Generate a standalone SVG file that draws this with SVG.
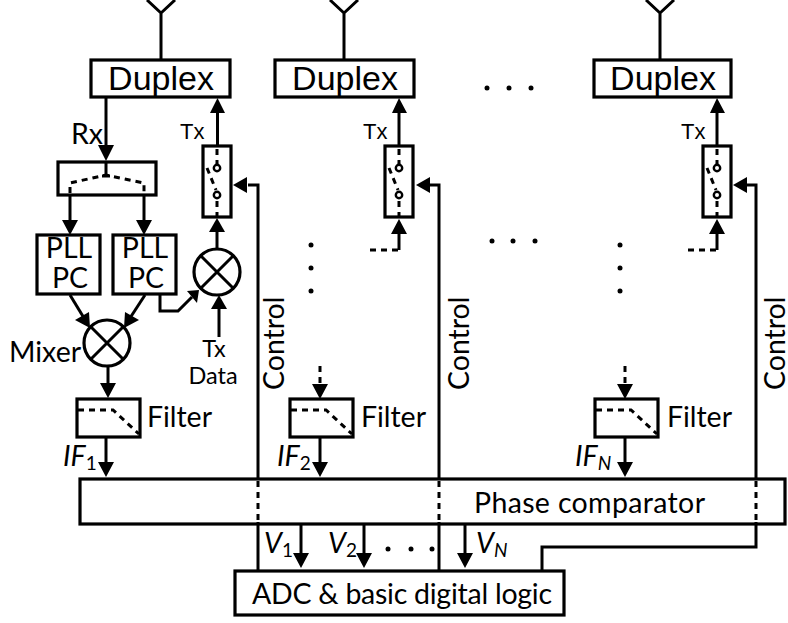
<svg xmlns="http://www.w3.org/2000/svg" width="788" height="623" viewBox="0 0 788 623">
<style>
.b{fill:#fff;stroke:#000;stroke-width:3.2}
.l{fill:none;stroke:#000;stroke-width:3}
.d{fill:none;stroke:#000;stroke-width:3;stroke-dasharray:6 5}
.h{fill:#000}
.o{fill:#fff;stroke:#000;stroke-width:2.4}
text{font-family:"Lato","Liberation Sans",sans-serif;fill:#000}
.dj{font-family:"Liberation Sans",sans-serif}
.t30{font-size:34px}
.t29{font-size:28.500px}
.t20{font-size:22px}
.t23{font-size:23.500px}
.i{font-style:italic}
</style>
<defs>
<g id="sw">
<rect class="b" x="0" y="0" width="28" height="71"/>
<path class="d" d="M14 3V18M14 55V70M4 22L13 44" stroke-dasharray="5 4"/>
<circle class="o" cx="14" cy="22" r="3.2"/>
<circle class="o" cx="14" cy="49" r="3.2"/>
</g>
<g id="fl">
<rect class="b" x="0" y="0" width="63" height="38"/>
<path class="d" d="M1 11H36L62 35"/>
</g>
<g id="mx">
<circle cx="0" cy="0" r="23" fill="#fff" stroke="#000" stroke-width="3.2"/>
<path class="l" d="M-16 -16L16 16M16 -16L-16 16"/>
</g>
</defs>
<g id="connectors">
<path class="l" d="M147 0L161 13L175 0M161 13V60"/>
<path class="l" d="M330 0L344 13L358 0M344 13V60"/>
<path class="l" d="M646 0L660 13L674 0M660 13V60"/>
<path class="l" d="M106 97V146"/><path class="h" d="M98 145H114L106 161Z"/>
<path class="l" d="M217.500 146V112"/><path class="h" d="M210 113H225L217.500 98Z"/>
<path class="l" d="M399 146V112"/><path class="h" d="M392 113H407L399 98Z"/>
<path class="l" d="M717 146V112"/><path class="h" d="M710 113H725L717 98Z"/>
<path class="l" d="M70 195V222"/><path class="h" d="M62 220H78L70 235Z"/>
<path class="l" d="M144 195V222"/><path class="h" d="M136 220H152L144 235Z"/>
<path class="l" d="M217 249V230"/><path class="h" d="M209 232H225L217 218Z"/>
<path class="l" d="M399 250V232"/><path class="h" d="M391 234H407L399 219Z"/>
<path class="d" d="M370 250H399"/>
<path class="l" d="M717 250V232"/><path class="h" d="M709 234H725L717 219Z"/>
<path class="d" d="M688 250H717"/>
<path class="l" d="M70 295L84 318"/><path class="h" d="M75 320L89 312L90 328Z"/>
<path class="l" d="M145 295L130 318"/><path class="h" d="M139 320L125 312L124 328Z"/>
<path class="l" d="M160 295V311H178L192 297"/><path class="h" d="M187 291L199 290L197 303Z"/>
<path class="l" d="M219 337V305"/><path class="h" d="M211 309H227L219 295Z"/>
<path class="l" d="M108 366V385"/><path class="h" d="M100 383H116L108 398Z"/>
<path class="l" d="M106 437V465"/><path class="h" d="M98 462H114L106 477Z"/>
<path class="d" d="M320 366V386"/><path class="h" d="M312 384H328L320 399Z"/>
<path class="l" d="M320 437V465"/><path class="h" d="M312 462H328L320 477Z"/>
<path class="d" d="M625 366V386"/><path class="h" d="M617 384H633L625 399Z"/>
<path class="l" d="M625 437V465"/><path class="h" d="M617 462H633L625 477Z"/>
<path class="l" d="M248 185H258V479"/><path class="h" d="M247 177V193L233 185Z"/>
<path class="l" d="M429 185H439V479"/><path class="h" d="M430 177V193L416 185Z"/>
<path class="l" d="M746 185H756V479"/><path class="h" d="M747 177V193L733 185Z"/>
</g>
<g id="phase-comparator"><rect class="b" x="80" y="479" width="705" height="45"/>
<text class="t29" x="474" y="513" textLength="231" lengthAdjust="spacing">Phase comparator</text></g>
<g id="connectors-lower">
<path class="d" d="M258 481V522M439 481V522M756 481V522" stroke-dasharray="5 4"/>
<path class="l" d="M258 522V571M439 522V571M756 522V547H542V571"/>
<path class="l" d="M301 524V556"/><path class="h" d="M293 553H309L301 568Z"/>
<path class="l" d="M364 524V556"/><path class="h" d="M356 553H372L364 568Z"/>
<path class="l" d="M465 524V556"/><path class="h" d="M457 553H473L465 568Z"/>
</g>
<g id="duplex-1"><rect class="b" x="91" y="60" width="139" height="37"/><text class="t30 dj" x="161" y="90" text-anchor="middle">Duplex</text></g>
<g id="duplex-2"><rect class="b" x="275" y="60" width="139" height="37"/><text class="t30 dj" x="345" y="90" text-anchor="middle">Duplex</text></g>
<g id="duplex-3"><rect class="b" x="594" y="60" width="137" height="37"/><text class="t30 dj" x="663" y="90" text-anchor="middle">Duplex</text></g>
<g id="splitter"><rect class="b" x="58" y="162" width="98" height="33"/>
<path class="d" d="M70 193V183L106 175L144 183V193" stroke-dasharray="5 4"/><path class="l" d="M106 163V176M102 176H110"/></g>
<g id="switch-1"><use href="#sw" x="203" y="146"/></g>
<g id="switch-2"><use href="#sw" x="385" y="146"/></g>
<g id="switch-3"><use href="#sw" x="703" y="146"/></g>
<g id="pll-1"><rect class="b" x="37" y="235" width="63" height="59"/><text class="t29" x="69" y="258" text-anchor="middle">PLL</text><text class="t29" x="70" y="288" text-anchor="middle">PC</text></g>
<g id="pll-2"><rect class="b" x="113" y="235" width="63" height="59"/><text class="t29" x="145" y="258" text-anchor="middle">PLL</text><text class="t29" x="146" y="288" text-anchor="middle">PC</text></g>
<g id="mixer-tx"><use href="#mx" x="217" y="272"/></g>
<g id="mixer-rx"><use href="#mx" x="107" y="343"/></g>
<g id="filter-1"><use href="#fl" x="77" y="399"/></g>
<g id="filter-2"><use href="#fl" x="290" y="399"/></g>
<g id="filter-3"><use href="#fl" x="595" y="399"/></g>
<g id="adc"><rect class="b" x="235" y="571" width="329" height="44"/><text class="t29" x="402" y="604" text-anchor="middle" textLength="300" lengthAdjust="spacing">ADC &amp; basic digital logic</text></g>
<g id="labels">
<text class="t29" x="71" y="144">Rx</text>
<text class="t20 dj" x="180" y="139">Tx</text>
<text class="t20 dj" x="363" y="139">Tx</text>
<text class="t20 dj" x="681" y="139">Tx</text>
<text class="t29" x="9" y="362">Mixer</text>
<text class="t23" x="214" y="357" text-anchor="middle">Tx</text>
<text class="t23" x="213" y="384" text-anchor="middle">Data</text>
<text class="t29" x="147" y="427" textLength="65" lengthAdjust="spacing">Filter</text>
<text class="t29" x="361" y="427" textLength="65" lengthAdjust="spacing">Filter</text>
<text class="t29" x="667" y="427" textLength="65" lengthAdjust="spacing">Filter</text>
<text class="t29 i" x="63" y="466">IF<tspan font-size="19" font-style="normal" dy="4">1</tspan></text>
<text class="t29 i" x="277" y="466">IF<tspan font-size="19" font-style="normal" dy="4">2</tspan></text>
<text class="t29 i" x="575" y="466">IF<tspan font-size="19" dy="4">N</tspan></text>
<text class="t29 i" x="264" y="553">V<tspan font-size="19" font-style="normal" dy="4">1</tspan></text>
<text class="t29 i" x="328" y="553">V<tspan font-size="19" font-style="normal" dy="4">2</tspan></text>
<text class="t29 i" x="476" y="553">V<tspan font-size="19" dy="4">N</tspan></text>
<text class="t29" transform="translate(284 390) rotate(-90)">Control</text>
<text class="t29" transform="translate(469 390) rotate(-90)">Control</text>
<text class="t29" transform="translate(785 390) rotate(-90)">Control</text>
</g>
<g id="dots" class="h">
<circle cx="487" cy="88" r="2.500"/><circle cx="509" cy="88" r="2.500"/><circle cx="531" cy="88" r="2.500"/>
<circle cx="492" cy="241" r="2.500"/><circle cx="513" cy="241" r="2.500"/><circle cx="535" cy="241" r="2.500"/>
<circle cx="311" cy="245" r="2.500"/><circle cx="311" cy="268" r="2.500"/><circle cx="311" cy="291" r="2.500"/>
<circle cx="620" cy="245" r="2.500"/><circle cx="620" cy="268" r="2.500"/><circle cx="620" cy="291" r="2.500"/>
<circle cx="388" cy="549" r="2.500"/><circle cx="411" cy="549" r="2.500"/><circle cx="432" cy="549" r="2.500"/>
</g>
</svg>
